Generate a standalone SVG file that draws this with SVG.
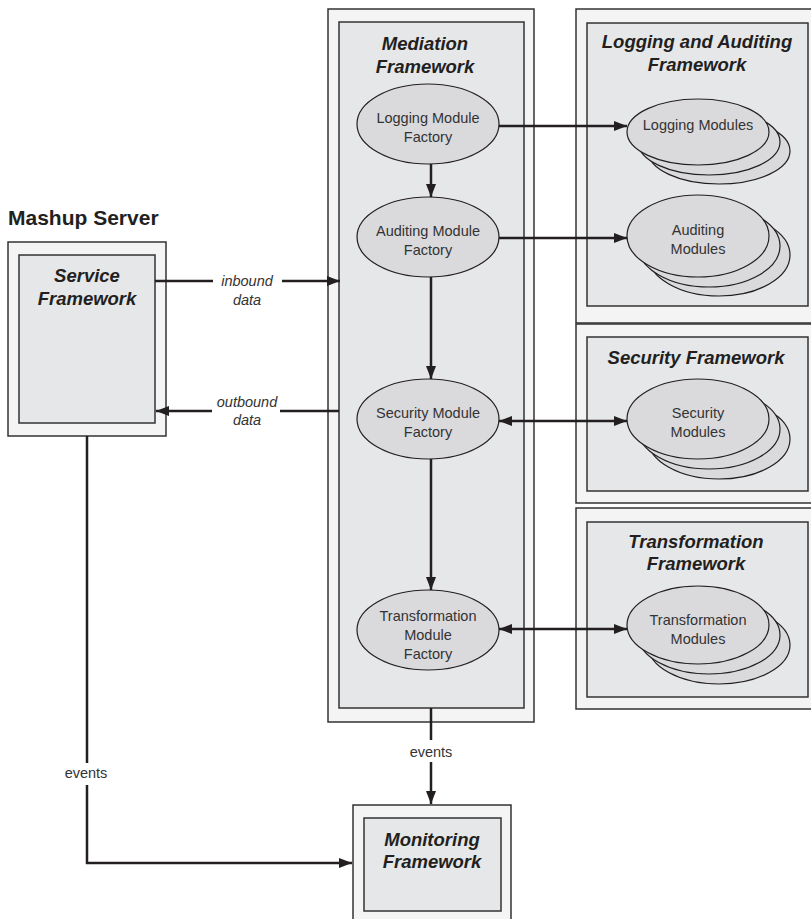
<svg xmlns="http://www.w3.org/2000/svg" width="811" height="919" viewBox="0 0 811 919">
  <defs>
    <marker id="arrow" markerUnits="userSpaceOnUse" markerWidth="14" markerHeight="11" refX="13" refY="5" orient="auto-start-reverse">
      <path d="M0,0 L13,5 L0,10 z" fill="#231f20"/>
    </marker>
    <style>
      .outer { fill: #f4f4f4; stroke: #333; stroke-width: 1.5; }
      .inner { fill: #e6e7e9; stroke: #333; stroke-width: 1.5; }
      .ell { fill: #dadadc; stroke: #231f20; stroke-width: 1.2; }
      .title { font-family: "Liberation Sans", Arial, sans-serif; font-weight: bold; font-style: italic; font-size: 18.5px; fill: #231f20; text-anchor: middle; }
      .label { font-family: "Liberation Sans", Arial, sans-serif; font-size: 14.5px; fill: #333; text-anchor: middle; }
      .edge { font-family: "Liberation Sans", Arial, sans-serif; font-size: 14.5px; fill: #333; text-anchor: middle; }
      .it { font-style: italic; }
      .conn { fill: none; stroke: #231f20; stroke-width: 2.5; }
    </style>
  </defs>
  <rect width="811" height="919" fill="#ffffff"/>

  <!-- Mashup Server with Service Framework -->
  <g id="mashup-server">
    <text x="8" y="225" font-family="Liberation Sans, Arial, sans-serif" font-weight="bold" font-size="21px" fill="#231f20">Mashup Server</text>
    <rect class="outer" x="8" y="242" width="158" height="194"/>
  </g>
  <g id="service-framework">
    <rect class="inner" x="19" y="255" width="136" height="168"/>
    <text class="title" x="87" y="282">Service</text>
    <text class="title" x="87" y="305">Framework</text>
  </g>

  <!-- Mediation Framework -->
  <g id="mediation-framework">
    <rect class="outer" x="328" y="9" width="206" height="713"/>
    <rect class="inner" x="339" y="22" width="185" height="686"/>
    <text class="title" x="425" y="50">Mediation</text>
    <text class="title" x="425" y="73">Framework</text>
  </g>
  <g id="logging-module-factory">
    <ellipse class="ell" cx="428" cy="124" rx="71" ry="40"/>
    <text class="label" x="428" y="123">Logging Module</text>
    <text class="label" x="428" y="142">Factory</text>
  </g>
  <g id="auditing-module-factory">
    <ellipse class="ell" cx="428" cy="237" rx="71" ry="40"/>
    <text class="label" x="428" y="236">Auditing Module</text>
    <text class="label" x="428" y="255">Factory</text>
  </g>
  <g id="security-module-factory">
    <ellipse class="ell" cx="428" cy="419" rx="71" ry="40"/>
    <text class="label" x="428" y="418">Security Module</text>
    <text class="label" x="428" y="437">Factory</text>
  </g>
  <g id="transformation-module-factory">
    <ellipse class="ell" cx="428" cy="630" rx="71" ry="40"/>
    <text class="label" x="428" y="621">Transformation</text>
    <text class="label" x="428" y="640">Module</text>
    <text class="label" x="428" y="659">Factory</text>
  </g>

  <!-- Logging and Auditing Framework -->
  <g id="logging-auditing-framework">
    <rect class="outer" x="576" y="9" width="245" height="314"/>
    <rect class="inner" x="587" y="23" width="221" height="283"/>
    <text class="title" x="697" y="48">Logging and Auditing</text>
    <text class="title" x="697" y="71">Framework</text>
  </g>
  <g id="logging-modules">
    <ellipse class="ell" cx="719" cy="151" rx="71" ry="33"/>
    <ellipse class="ell" cx="709" cy="142" rx="71" ry="33"/>
    <ellipse class="ell" cx="698" cy="132" rx="71" ry="33"/>
    <text class="label" x="698" y="130">Logging Modules</text>
  </g>
  <g id="auditing-modules">
    <ellipse class="ell" cx="719" cy="255" rx="71" ry="41"/>
    <ellipse class="ell" cx="709" cy="246" rx="71" ry="41"/>
    <ellipse class="ell" cx="698" cy="236" rx="71" ry="41"/>
    <text class="label" x="698" y="235">Auditing</text>
    <text class="label" x="698" y="254">Modules</text>
  </g>

  <!-- Security Framework -->
  <g id="security-framework">
    <rect class="outer" x="576" y="324" width="245" height="179"/>
    <rect class="inner" x="587" y="337" width="221" height="154"/>
    <text class="title" x="696" y="364">Security Framework</text>
  </g>
  <g id="security-modules">
    <ellipse class="ell" cx="719" cy="439" rx="71" ry="40"/>
    <ellipse class="ell" cx="709" cy="429" rx="71" ry="40"/>
    <ellipse class="ell" cx="698" cy="419" rx="71" ry="40"/>
    <text class="label" x="698" y="418">Security</text>
    <text class="label" x="698" y="437">Modules</text>
  </g>

  <!-- Transformation Framework -->
  <g id="transformation-framework">
    <rect class="outer" x="576" y="508" width="245" height="201"/>
    <rect class="inner" x="587" y="522" width="221" height="175"/>
    <text class="title" x="696" y="548">Transformation</text>
    <text class="title" x="696" y="570">Framework</text>
  </g>
  <g id="transformation-modules">
    <ellipse class="ell" cx="719" cy="645" rx="71" ry="39"/>
    <ellipse class="ell" cx="709" cy="635" rx="71" ry="39"/>
    <ellipse class="ell" cx="698" cy="625" rx="71" ry="39"/>
    <text class="label" x="698" y="625">Transformation</text>
    <text class="label" x="698" y="644">Modules</text>
  </g>

  <!-- Monitoring Framework -->
  <g id="monitoring-framework">
    <rect class="outer" x="353" y="805" width="158" height="118"/>
    <rect class="inner" x="364" y="818" width="137" height="93"/>
    <text class="title" x="432" y="846">Monitoring</text>
    <text class="title" x="432" y="868">Framework</text>
  </g>

  <!-- Connectors -->
  <g id="connectors">
    <path class="conn" d="M155,281 H213"/>
    <path class="conn" d="M282,281 H340" marker-end="url(#arrow)"/>
    <text class="edge it" x="247" y="286">inbound</text>
    <text class="edge it" x="247" y="305">data</text>

    <path class="conn" d="M339,411 H280"/>
    <path class="conn" d="M212,411 H156" marker-end="url(#arrow)"/>
    <text class="edge it" x="247" y="407">outbound</text>
    <text class="edge it" x="247" y="425">data</text>

    <path class="conn" d="M431,164 V197" marker-end="url(#arrow)"/>
    <path class="conn" d="M431,277 V379" marker-end="url(#arrow)"/>
    <path class="conn" d="M431,459 V590" marker-end="url(#arrow)"/>

    <path class="conn" d="M499,126 H627" marker-end="url(#arrow)"/>
    <path class="conn" d="M499,238 H627" marker-end="url(#arrow)"/>
    <path class="conn" d="M499,421 H627" marker-start="url(#arrow)" marker-end="url(#arrow)"/>
    <path class="conn" d="M499,629 H627" marker-start="url(#arrow)" marker-end="url(#arrow)"/>

    <path class="conn" d="M431,708 V740"/>
    <path class="conn" d="M431,762 V804" marker-end="url(#arrow)"/>
    <text class="edge" x="431" y="757">events</text>

    <path class="conn" d="M87,436 V763"/>
    <path class="conn" d="M87,785 V863 H352" marker-end="url(#arrow)"/>
    <text class="edge" x="86" y="778">events</text>
  </g>
</svg>
